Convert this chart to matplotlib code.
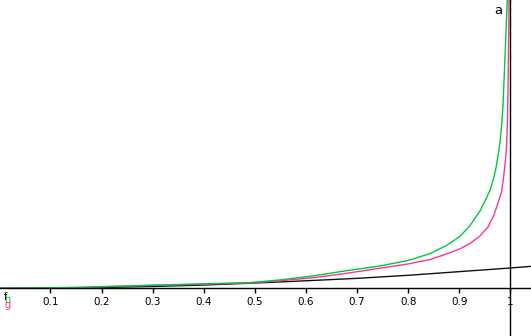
import numpy as np
import matplotlib
matplotlib.use('Agg')
import matplotlib.pyplot as plt

plt.rcParams['font.family'] = ['DejaVu Sans']

# values (y in units where f(1) = 1)
f_x = [0, 0.1, 0.2, 0.3, 0.4, 0.5, 0.6, 0.7, 0.8, 0.9, 1.0, 1.04]
f_y = [0, 0.01, 0.04, 0.09, 0.16, 0.26, 0.37, 0.49, 0.64, 0.82, 1.0, 1.08]

h_x = [0, 0.15, 0.295, 0.49, 0.549, 0.614, 0.68, 0.745, 0.80, 0.843, 0.875,
       0.901, 0.921, 0.9405, 0.9523, 0.9601, 0.9659, 0.9718, 0.9767, 0.9806,
       0.9836, 0.9855, 0.9888, 0.9939]
h_y = [0, 0.04, 0.15, 0.28, 0.41, 0.61, 0.87, 1.10, 1.37, 1.71, 2.11,
       2.55, 3.09, 3.81, 4.40, 4.84, 5.29, 5.93, 6.67, 7.40,
       8.29, 9.03, 11.0, 14.2]

g_x = [0, 0.15, 0.295, 0.49, 0.549, 0.614, 0.68, 0.745, 0.80, 0.843, 0.875,
       0.901, 0.921, 0.9405, 0.9562, 0.9679, 0.9763, 0.9826, 0.9865, 0.9904,
       0.9928, 0.9943, 0.9957, 0.9973]
g_y = [0, 0.04, 0.14, 0.26, 0.37, 0.52, 0.74, 0.99, 1.20, 1.42, 1.69,
       1.94, 2.21, 2.58, 3.02, 3.61, 4.25, 4.74, 5.43, 6.32,
       7.16, 8.29, 10.51, 14.2]

a = 1.0
xticks = [0.1, 0.2, 0.3, 0.4, 0.5, 0.6, 0.7, 0.8, 0.9, 1.0]
xticklabels = ['0.1', '0.2', '0.3', '0.4', '0.5', '0.6', '0.7', '0.8', '0.9', '1']

fig = plt.figure(figsize=(5.31, 3.36), dpi=100)
ax = fig.add_axes([0, 0, 1, 1])

green = '#00c83c'
pink = '#ff3399'

ax.plot(f_x, f_y, color='#111111', lw=1.0)
ax.plot(g_x, g_y, color=pink, lw=1.0)
ax.plot(h_x, h_y, color=green, lw=1.0)
ax.axvline(a, color='black', lw=1.0)

ax.set_xlim(0.0012, 1.0403)
ax.set_ylim(-2.35, 14.2)

for s in ['left', 'top', 'right']:
    ax.spines[s].set_visible(False)
ax.spines['bottom'].set_position(('data', 0))
ax.spines['bottom'].set_linewidth(1.0)
ax.set_yticks([])
ax.set_xticks(xticks)
ax.set_xticklabels(xticklabels, fontsize=7.5)
ax.tick_params(axis='x', direction='out', length=3.5, width=1.0, pad=3)

ax.text(0.976, 14.0, 'a', fontsize=9.5, ha='center', va='top')
ax.text(0.008, -0.2, 'f', fontsize=7, color='black', va='top')
ax.text(0.010, -0.35, 'h', fontsize=7, color=green, va='top')
ax.text(0.010, -0.6, 'g', fontsize=7, color=pink, va='top')

fig.savefig('out.png', dpi=100)
